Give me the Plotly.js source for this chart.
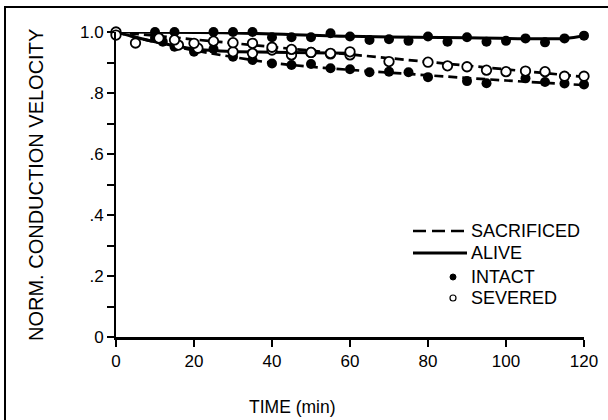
<!DOCTYPE html>
<html>
<head>
<meta charset="utf-8">
<script src="https://cdn.plot.ly/plotly-3.0.1.min.js"></script>
<style>html,body{margin:0;padding:0;background:#fff;}#chart{width:608px;height:420px;}</style>
</head>
<body>
<div id="chart"></div>
<script>
// ---- data ----
// ALIVE / INTACT (filled dots, solid fitted line)
const aliveIntactT = [0, 10, 15, 25, 30, 35, 40, 45, 50, 55, 60, 65, 70, 75, 80, 85, 90, 95, 100, 105, 110, 115, 120];
const aliveIntactV = [1.0, 1.0, 1.0, 1.0, 1.0, 1.0, 0.983, 0.983, 0.983, 0.996, 0.985, 0.974, 0.976, 0.971, 0.985, 0.968, 0.983, 0.968, 0.971, 0.979, 0.966, 0.979, 0.988];
const aliveIntactFitT = [0, 30, 60, 90, 115, 120];
const aliveIntactFitV = [1.0, 0.997, 0.986, 0.981, 0.979, 0.988];

// ALIVE / SEVERED (open dots, solid fitted line)
const aliveSevT = [0, 5, 16, 21, 30, 35, 40, 45, 50, 55, 60];
const aliveSevV = [1.0, 0.964, 0.957, 0.947, 0.935, 0.930, 0.941, 0.925, 0.933, 0.928, 0.925];
const aliveSevFitT = [0, 5, 10, 15, 20, 30, 40, 50, 60];
const aliveSevFitV = [1.0, 0.983, 0.968, 0.955, 0.944, 0.936, 0.934, 0.932, 0.930];

// SACRIFICED / INTACT (filled dots, dashed fitted line)
const sacIntT = [0, 10, 12, 15, 20, 25, 30, 35, 40, 45, 50, 55, 60, 65, 70, 75, 80, 90, 95, 105, 110, 115, 120];
const sacIntV = [1.0, 0.98, 0.968, 0.952, 0.935, 0.944, 0.919, 0.908, 0.897, 0.892, 0.895, 0.881, 0.878, 0.868, 0.870, 0.868, 0.852, 0.839, 0.832, 0.848, 0.836, 0.831, 0.828];
const sacIntFitT = [0, 10, 20, 30, 40, 50, 60, 80, 100, 120];
const sacIntFitV = [1.0, 0.967, 0.94, 0.918, 0.899, 0.886, 0.876, 0.858, 0.841, 0.826];

// SACRIFICED / SEVERED (open dots, dashed fitted line)
const sacSevT = [0, 11, 15, 20, 25, 30, 35, 40, 45, 50, 55, 60, 70, 80, 85, 90, 95, 100, 105, 110, 115, 120];
const sacSevV = [0.99, 0.98, 0.974, 0.963, 0.970, 0.965, 0.963, 0.95, 0.943, 0.933, 0.93, 0.935, 0.903, 0.901, 0.889, 0.886, 0.875, 0.870, 0.872, 0.870, 0.855, 0.855];
const sacSevFitT = [0, 120];
const sacSevFitV = [1.0, 0.853];

const xTicks = [0, 20, 40, 60, 80, 100, 120];
const yTicks = [0, 0.2, 0.4, 0.6, 0.8, 1.0];
const yTickText = ["0", ".2", ".4", ".6", ".8", "1.0"];
const yMinor = [0.1, 0.3, 0.5, 0.7, 0.9];
const legendLabels = ["SACRIFICED", "ALIVE", "INTACT", "SEVERED"];

// ---- layout helpers ----
const W = 608, H = 420, L = 116, R = 24, T = 32, B = 83;
const pw = W - L - R, ph = H - T - B;
const px = x => (x - L) / pw;
const py = y => (H - B - y) / ph;
const FONT = "Liberation Sans, Arial, Helvetica, sans-serif";

const dashed = "9px,5px";
const filledM = {symbol: "circle", size: 10, color: "#000", line: {width: 0}};
const openM = {symbol: "circle", size: 9.5, color: "#fff", line: {width: 1.8, color: "#000"}};

const traces = [
  {x: aliveIntactFitT, y: aliveIntactFitV, mode: "lines", line: {color: "#000", width: 3, shape: "spline"}},
  {x: aliveSevFitT, y: aliveSevFitV, mode: "lines", line: {color: "#000", width: 3, shape: "spline"}},
  {x: sacIntFitT, y: sacIntFitV, mode: "lines", line: {color: "#000", width: 2.7, dash: dashed, shape: "spline"}},
  {x: sacSevFitT, y: sacSevFitV, mode: "lines", line: {color: "#000", width: 2.7, dash: dashed}},
  {x: aliveIntactT, y: aliveIntactV, mode: "markers", marker: filledM, cliponaxis: false},
  {x: sacIntT, y: sacIntV, mode: "markers", marker: filledM, cliponaxis: false},
  {x: aliveSevT, y: aliveSevV, mode: "markers", marker: openM, cliponaxis: false},
  {x: sacSevT, y: sacSevV, mode: "markers", marker: openM, cliponaxis: false}
];
traces.forEach(t => { t.showlegend = false; t.type = "scatter"; t.hoverinfo = "skip"; });

const legY = [231, 253, 277, 298];
const shapes = [
  // outer frame of the figure
  {type: "rect", xref: "paper", yref: "paper", x0: px(5), x1: px(640), y0: py(460), y1: py(7), line: {color: "#000", width: 2}},
  // legend samples
  {type: "line", xref: "paper", yref: "paper", x0: px(413), x1: px(467), y0: py(legY[0]), y1: py(legY[0]), line: {color: "#000", width: 2.7, dash: "13px,6px"}},
  {type: "line", xref: "paper", yref: "paper", x0: px(413), x1: px(467), y0: py(legY[1]), y1: py(legY[1]), line: {color: "#000", width: 3}},
  {type: "circle", xref: "paper", yref: "paper", x0: px(450), x1: px(456), y0: py(legY[2] + 3), y1: py(legY[2] - 3), fillcolor: "#000", line: {color: "#000", width: 1}},
  {type: "circle", xref: "paper", yref: "paper", x0: px(450), x1: px(456), y0: py(legY[3] + 3), y1: py(legY[3] - 3), fillcolor: "#fff", line: {color: "#000", width: 1.2}}
];

const annotations = legendLabels.map((s, i) => ({
  text: s, xref: "paper", yref: "paper", x: px(469), y: py(legY[i]), xanchor: "left", yanchor: "middle",
  showarrow: false, font: {family: FONT, size: 18, color: "#000"}
}));
annotations.push({text: "TIME (min)", xref: "paper", yref: "paper", x: px(292), y: py(407), xanchor: "center", yanchor: "middle", showarrow: false, font: {family: FONT, size: 17.5, color: "#000"}});
annotations.push({text: "NORM. CONDUCTION VELOCITY", xref: "paper", yref: "paper", x: px(36), y: py(185), xanchor: "center", yanchor: "middle", textangle: -90, showarrow: false, font: {family: FONT, size: 20, color: "#000"}});

const layout = {
  width: W, height: H,
  margin: {l: L, r: R, t: T, b: B, pad: 0},
  paper_bgcolor: "#fff", plot_bgcolor: "#fff",
  font: {family: FONT, color: "#000"},
  showlegend: false,
  xaxis: {
    range: [0, 120], tickvals: xTicks, ticktext: xTicks.map(String),
    showline: true, linecolor: "#000", linewidth: 3, mirror: false,
    ticks: "outside", ticklen: 7, tickwidth: 2, tickcolor: "#000",
    showgrid: false, zeroline: false, tickfont: {family: FONT, size: 17, color: "#000"}
  },
  yaxis: {
    range: [0, 1.0], tickvals: yTicks, ticktext: yTickText,
    showline: true, linecolor: "#000", linewidth: 2, mirror: false,
    ticks: "outside", ticklen: 7, tickwidth: 2, tickcolor: "#000",
    minor: {tickvals: yMinor, ticks: "outside", ticklen: 7, tickwidth: 2, tickcolor: "#000", showgrid: false},
    showgrid: false, zeroline: false, tickfont: {family: FONT, size: 17, color: "#000"}
  },
  shapes: shapes,
  annotations: annotations
};

Plotly.newPlot("chart", traces, layout, {staticPlot: true, displayModeBar: false});
</script>
</body>
</html>
